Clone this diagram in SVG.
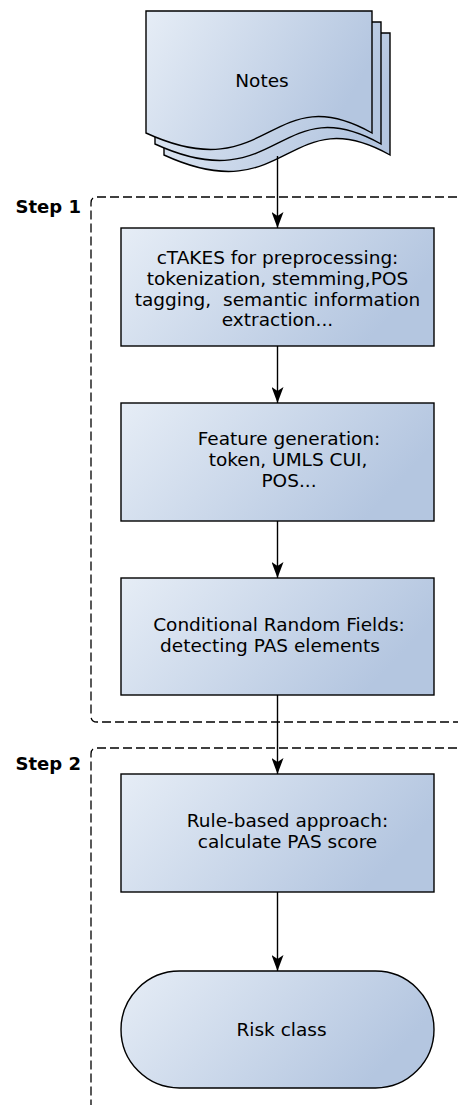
<svg xmlns="http://www.w3.org/2000/svg" width="458" height="1105" viewBox="0 0 458 1105">
<style>
.node{stroke:#000;stroke-width:1.4;fill:url(#g)}
.lbl{font-family:"DejaVu Sans",sans-serif;font-size:18.5px;fill:#000;text-anchor:middle}
.step{font-family:"DejaVu Sans",sans-serif;font-weight:bold;font-size:18px;fill:#000;text-anchor:end}
.grp{fill:none;stroke:#000;stroke-width:1.3;stroke-dasharray:9 4}
.edge{stroke:#000;stroke-width:1.4;fill:none;marker-end:url(#arr)}
</style>
<defs>
<linearGradient id="g" x1="0" y1="0" x2="1" y2="0.35">
<stop offset="0" stop-color="#e6edf6"/>
<stop offset="1" stop-color="#b4c6e0"/>
</linearGradient>
<marker id="arr" viewBox="0 0 16 12" refX="16" refY="6" markerWidth="16" markerHeight="12" markerUnits="userSpaceOnUse" orient="auto">
<path d="M0,0 L16,6 L0,12 L4,6 Z" fill="#000"/>
</marker>
<path id="page" d="M146,11 H372 V133 C270,76 270,190 146,133 Z"/>
</defs>
<rect width="458" height="1105" fill="#fff"/>
<g id="groups">
<path class="grp" d="M470,197 H97 Q91,197 91,203 V716 Q91,722 97,722 H470"/>
<text class="step" x="81" y="213">Step 1</text>
<path class="grp" d="M470,748 H97 Q91,748 91,754 V1110"/>
<text class="step" x="81" y="770">Step 2</text>
</g>
<g id="notes">
<use href="#page" class="node" transform="translate(18,22)"/>
<use href="#page" class="node" transform="translate(9,11)"/>
<use href="#page" class="node"/>
<text class="lbl" x="262" y="87">Notes</text>
</g>
<g id="ctakes">
<rect class="node" x="121" y="228" width="313" height="118"/>
<text class="lbl" x="277.5" y="264">cTAKES for preprocessing:</text>
<text class="lbl" x="277.5" y="285" xml:space="preserve">tokenization, stemming,POS</text>
<text class="lbl" x="277.5" y="305.5" xml:space="preserve">tagging,  semantic information</text>
<text class="lbl" x="277.5" y="326">extraction...</text>
</g>
<g id="features">
<rect class="node" x="121" y="403" width="313" height="118"/>
<text class="lbl" x="289" y="445">Feature generation:</text>
<text class="lbl" x="288" y="466">token, UMLS CUI,</text>
<text class="lbl" x="289" y="487">POS...</text>
</g>
<g id="crf">
<rect class="node" x="121" y="578" width="313" height="117"/>
<text class="lbl" x="279" y="631">Conditional Random Fields:</text>
<text class="lbl" x="270" y="652">detecting PAS elements</text>
</g>
<g id="rules">
<rect class="node" x="121" y="774" width="313" height="118"/>
<text class="lbl" x="287.5" y="827">Rule-based approach:</text>
<text class="lbl" x="287.5" y="848">calculate PAS score</text>
</g>
<g id="risk">
<rect class="node" x="121" y="971" width="313" height="117" rx="58.5" ry="58.5"/>
<text class="lbl" x="281.5" y="1036">Risk class</text>
</g>
<g id="connectors">
<line class="edge" x1="277.5" y1="156" x2="277.5" y2="228"/>
<line class="edge" x1="277.5" y1="346" x2="277.5" y2="403"/>
<line class="edge" x1="277.5" y1="521" x2="277.5" y2="578"/>
<line class="edge" x1="277.5" y1="695" x2="277.5" y2="774"/>
<line class="edge" x1="277.5" y1="892" x2="277.5" y2="971"/>
</g>
</svg>
